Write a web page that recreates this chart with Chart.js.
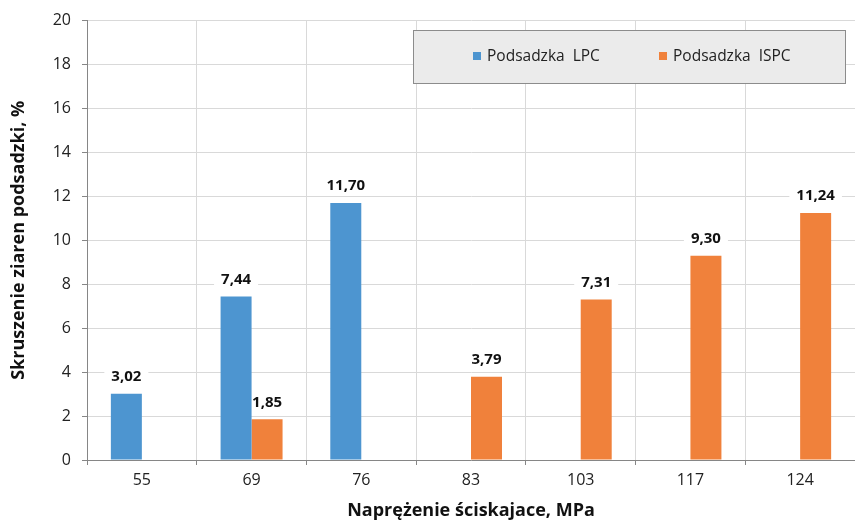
<!DOCTYPE html>
<html>
<head>
<meta charset="utf-8">
<script src="https://cdn.jsdelivr.net/npm/chart.js@4.4.0/dist/chart.umd.min.js"></script>
<style>
  html, body { margin: 0; padding: 0; background: #fff; }
  #wrap { width: 855px; height: 522px; }
</style>
</head>
<body>
<div id="wrap"><canvas id="wykres"></canvas></div>
<script>
// dane z wykresu
var naprezenia = ["55", "69", "76", "83", "103", "117", "124"];
var podsadzkaLPC = [3.02, 7.44, 11.70, null, null, null, null];
var podsadzkaISPC = [null, 1.85, null, 3.79, 7.31, 9.30, 11.24];
var yTicks = [0, 2, 4, 6, 8, 10, 12, 14, 16, 18, 20];

var FONT = "'Open Sans', 'Liberation Sans', sans-serif";

function formatuj(v) {
  return v.toFixed(2).replace(".", ",");
}

function pozycjeEtykiet(chart, cb) {
  chart.data.datasets.forEach(function (ds, i) {
    var meta = chart.getDatasetMeta(i);
    meta.data.forEach(function (bar, j) {
      var v = ds.data[j];
      if (v == null) return;
      cb(formatuj(v), bar.x, bar.y - 18);
    });
  });
}

/* ETYKIETY NAD SLUPKAMI - tlo pod slupkami, tekst na wierzchu */
var etykietyPlugin = {
  id: "etykiety",
  beforeDatasetsDraw: function (chart) {
    var ctx = chart.ctx;
    ctx.save();
    ctx.font = "bold 15px " + FONT;
    ctx.fillStyle = "#fff";
    pozycjeEtykiet(chart, function (txt, x, y) {
      var w = ctx.measureText(txt).width + 14;
      ctx.fillRect(x - w / 2, y - 11, w, 22);
    });
    ctx.restore();
  },
  afterDatasetsDraw: function (chart) {
    var ctx = chart.ctx;
    ctx.save();
    ctx.font = "bold 15px " + FONT;
    ctx.textAlign = "center";
    ctx.textBaseline = "middle";
    ctx.fillStyle = "#111";
    pozycjeEtykiet(chart, function (txt, x, y) {
      ctx.fillText(txt, x, y + 1);
    });
    ctx.restore();
  }
};

/* LEGENDA W RAMCE */
var legendaPlugin = {
  id: "legendaRamka",
  afterDraw: function (chart) {
    var ctx = chart.ctx;
    ctx.save();
    var bx = 413, by = 30, bw = 432, bh = 53;
    ctx.fillStyle = "#ebebeb";
    ctx.fillRect(bx, by, bw, bh);
    ctx.strokeStyle = "#8c8c8c";
    ctx.lineWidth = 1;
    ctx.strokeRect(bx + 0.5, by + 0.5, bw, bh);
    ctx.font = "15.5px " + FONT;
    ctx.textBaseline = "middle";
    ctx.textAlign = "left";
    var pozycje = [473, 659];
    chart.data.datasets.forEach(function (ds, i) {
      var x = pozycje[i];
      ctx.fillStyle = ds.backgroundColor;
      ctx.fillRect(x, by + 22, 8, 8);
      ctx.fillStyle = "#222";
      ctx.fillText(ds.label, x + 14, by + 27);
    });
    ctx.restore();
  }
};

var ctx = document.getElementById("wykres");
var wykres = new Chart(ctx, {
  type: "bar",
  data: {
    labels: naprezenia,
    datasets: [{
      label: "Podsadzka  LPC",
      data: podsadzkaLPC,
      backgroundColor: "#4d95d0",
      categoryPercentage: 0.565,
      barPercentage: 1.0
    }, {
      label: "Podsadzka  ISPC",
      data: podsadzkaISPC,
      backgroundColor: "#f0813b",
      categoryPercentage: 0.565,
      barPercentage: 1.0
    }]
  },
  options: {
    responsive: true,
    maintainAspectRatio: false,
    animation: false,
    layout: { padding: { top: 16, right: 0, left: 0, bottom: 0 } },
    plugins: {
      legend: { display: false },
      tooltip: { enabled: false }
    },
    scales: {
      x: {
        offset: true,
        grid: {
          offset: true,
          color: "#d9d9d9",
          tickColor: "#868686",
          tickLength: 5
        },
        border: { color: "#868686" },
        ticks: {
          color: "#222",
          font: { family: FONT, size: 16 },
          padding: 6
        },
        title: {
          display: true,
          text: "Naprężenie ściskajace, MPa",
          color: "#111",
          font: { family: FONT, size: 18, weight: "bold" },
          padding: { top: 2, bottom: 0 }
        },
        afterFit: function (scale) { scale.height = 62; }
      },
      y: {
        min: 0,
        max: 20,
        afterBuildTicks: function (scale) {
          scale.ticks = yTicks.map(function (v) { return { value: v }; });
        },
        grid: {
          color: "#d9d9d9",
          tickColor: "#868686",
          tickLength: 5
        },
        border: { color: "#868686" },
        ticks: {
          color: "#222",
          font: { family: FONT, size: 16 },
          padding: 11
        },
        title: {
          display: true,
          text: "Skruszenie ziaren podsadzki, %",
          color: "#111",
          font: { family: FONT, size: 18, weight: "bold" },
          padding: { top: 8, bottom: 0 }
        },
        afterFit: function (scale) { scale.width = 87; }
      }
    }
  },
  plugins: [etykietyPlugin, legendaPlugin]
});
</script>
</body>
</html>
